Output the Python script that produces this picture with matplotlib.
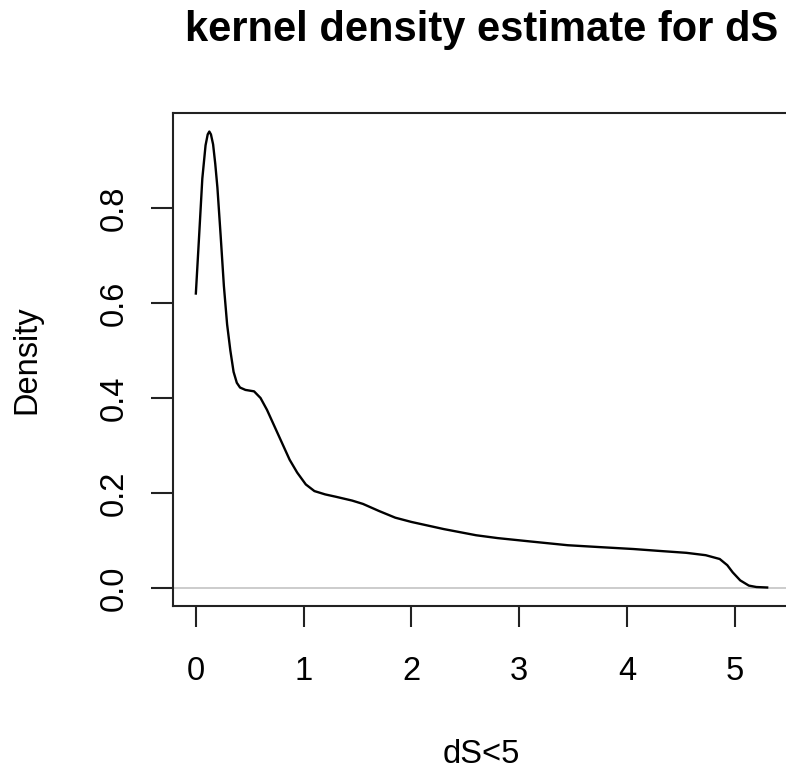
import matplotlib
matplotlib.use('Agg')
import matplotlib.pyplot as plt

plt.rcParams['font.family'] = ['Liberation Sans', 'DejaVu Sans']

ds_x = [0.00, 0.03, 0.06, 0.09, 0.11, 0.125, 0.14, 0.16, 0.18, 0.20,
        0.23, 0.26, 0.29, 0.32, 0.35, 0.38, 0.41, 0.46, 0.54, 0.60,
        0.66, 0.73, 0.79, 0.87, 0.94, 1.02, 1.10, 1.20, 1.30, 1.45,
        1.55, 1.70, 1.85, 2.00, 2.30, 2.60, 2.80, 3.10, 3.45, 3.75,
        4.06, 4.30, 4.55, 4.73, 4.86, 4.93, 4.98, 5.05, 5.13, 5.20,
        5.30]
density = [0.620, 0.740, 0.862, 0.932, 0.955, 0.961, 0.955, 0.934, 0.893, 0.843,
           0.742, 0.636, 0.555, 0.500, 0.455, 0.432, 0.422, 0.417, 0.414, 0.400,
           0.375, 0.340, 0.310, 0.270, 0.243, 0.218, 0.204, 0.197, 0.192, 0.184,
           0.177, 0.162, 0.148, 0.139, 0.124, 0.111, 0.105, 0.098, 0.090, 0.086,
           0.082, 0.078, 0.074, 0.069, 0.061, 0.048, 0.033, 0.016, 0.005, 0.002,
           0.001]

x_ticks = [0, 1, 2, 3, 4, 5]
y_ticks = [0.0, 0.2, 0.4, 0.6, 0.8]

fig = plt.figure(figsize=(7.86, 7.72), dpi=100)
ax = fig.add_axes([0.2201, 0.215, 0.785, 0.6386])

ax.axhline(0, color='#c4c4c4', linewidth=1.2, zorder=1)
ax.plot(ds_x, density, color='black', linewidth=1.7, zorder=2)

ax.set_xlim(-0.212, 5.512)
ax.set_ylim(-0.038, 1.0)

ax.set_xticks(x_ticks)
ax.set_xticklabels([str(v) for v in x_ticks])
ax.set_yticks(y_ticks)
ax.set_yticklabels([f'{v:.1f}' for v in y_ticks], rotation=90, va='center')

for s in ax.spines.values():
    s.set_linewidth(1.5)
    s.set_color('#222222')

ax.tick_params(axis='x', length=15, width=1.5, color='#222222', pad=21,
               labelsize=23.5)
ax.tick_params(axis='y', length=16, width=1.5, color='#222222', pad=15,
               labelsize=23.5)

ax.set_title('kernel density estimate for dS', fontsize=30, fontweight='bold',
             pad=52)
ax.set_xlabel('dS<5', fontsize=23.5)
ax.xaxis.set_label_coords(0.5, -0.270)
ax.set_ylabel('Density', fontsize=23.5)
ax.yaxis.set_label_coords(-0.212, 0.5)

plt.savefig('out.png', dpi=100)
plt.close()
